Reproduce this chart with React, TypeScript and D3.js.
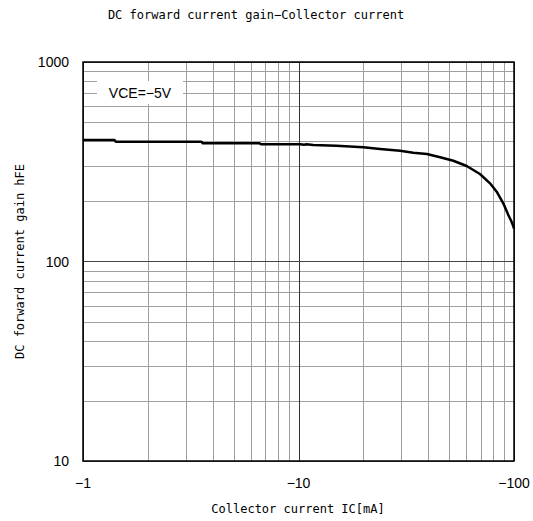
import React, { useEffect, useRef } from "react";
import * as d3 from "d3";

const xTicks = [1, 10, 100];
const xTickLabels = ["−1", "−10", "−100"];
const yTicks = [10, 100, 1000];
const yTickLabels = ["10", "100", "1000"];

const icValues = [1, 1.4, 1.42, 3.55, 3.6, 6.6, 6.7, 10.2, 10.6, 10.9, 11.7, 15.0, 20.0, 23.9, 29.6, 34.1, 39.4, 45.4, 52.3, 60.3, 69.5, 77.4, 83.1, 89.2, 94.1, 97.0, 99.3, 100];
const hfeValues = [406, 406, 398, 398, 391, 391, 387, 387, 385, 387, 383.7, 380.5, 373.6, 366.4, 359.3, 351.1, 345.8, 332.9, 320, 301.1, 274.6, 246.6, 223.9, 195.7, 171, 160, 150, 146];

const title = "DC forward current gain−Collector current";
const xLabel = "Collector current IC[mA]";
const yLabel = "DC forward current gain hFE";
const legendText = "VCE=−5V";

export default function App() {
  const ref = useRef<SVGSVGElement>(null);
  useEffect(() => {
    document.body.style.margin = "0";
    const svg = d3.select(ref.current);
    svg.selectAll("*").remove();
    const W = 533, H = 521;
    const m = { left: 83, top: 62, right: 19, bottom: 60 };
    const pw = W - m.left - m.right;
    const ph = H - m.top - m.bottom;
    const x = d3.scaleLog().domain([1, 100]).range([m.left, m.left + pw]);
    const y = d3.scaleLog().domain([10, 1000]).range([m.top + ph, m.top]);
    const gothic = "'DejaVu Sans Mono', 'Liberation Mono', monospace";
    const arial = "'Liberation Sans', Arial, sans-serif";

    svg.append("rect").attr("width", W).attr("height", H).attr("fill", "#fff");

    const g = svg.append("g");
    const minorX: number[] = [];
    const minorY: number[] = [];
    for (const d of [1, 10]) for (let k = 2; k <= 9; k++) minorX.push(d * k);
    for (const d of [10, 100]) for (let k = 2; k <= 9; k++) minorY.push(d * k);

    g.selectAll(".mx").data(minorX).enter().append("line")
      .attr("x1", d => Math.round(x(d)) + 0.5).attr("x2", d => Math.round(x(d)) + 0.5)
      .attr("y1", m.top).attr("y2", m.top + ph)
      .attr("stroke", "#a0a0a0").attr("stroke-width", 1);
    g.selectAll(".my").data(minorY).enter().append("line")
      .attr("y1", d => Math.round(y(d)) + 0.5).attr("y2", d => Math.round(y(d)) + 0.5)
      .attr("x1", m.left).attr("x2", m.left + pw)
      .attr("stroke", "#a0a0a0").attr("stroke-width", 1);
    g.selectAll(".Mx").data(xTicks).enter().append("line")
      .attr("x1", d => Math.round(x(d)) + 0.5).attr("x2", d => Math.round(x(d)) + 0.5)
      .attr("y1", m.top).attr("y2", m.top + ph)
      .attr("stroke", "#333").attr("stroke-width", 1);
    g.selectAll(".My").data(yTicks).enter().append("line")
      .attr("y1", d => Math.round(y(d)) + 0.5).attr("y2", d => Math.round(y(d)) + 0.5)
      .attr("x1", m.left).attr("x2", m.left + pw)
      .attr("stroke", "#444").attr("stroke-width", 1);

    // legend box
    svg.append("rect").attr("x", 97).attr("y", 81).attr("width", 86).attr("height", 23).attr("fill", "#fff");
    svg.append("text").attr("x", 140).attr("y", 98).attr("text-anchor", "middle")
      .attr("font-family", arial).attr("font-size", 14).text(legendText);

    // curve
    const pts = icValues.map((v, i) => [v, hfeValues[i]] as [number, number]);
    const line = d3.line<[number, number]>().x(d => x(d[0])).y(d => y(d[1]));
    svg.append("path").attr("d", line(pts)).attr("fill", "none")
      .attr("stroke", "#000").attr("stroke-width", 2.5).attr("stroke-linejoin", "round");

    // frame
    svg.append("rect").attr("x", m.left).attr("y", m.top).attr("width", pw).attr("height", ph)
      .attr("fill", "none").attr("stroke", "#000").attr("stroke-width", 1.5);

    // tick labels
    svg.selectAll(".xt").data(xTicks).enter().append("text")
      .attr("x", d => x(d)).attr("y", 488).attr("text-anchor", "middle")
      .attr("font-family", arial).attr("font-size", 14).text((d, i) => xTickLabels[i]);
    svg.selectAll(".yt").data(yTicks).enter().append("text")
      .attr("x", 69).attr("y", d => y(d) + 5).attr("text-anchor", "end")
      .attr("font-family", arial).attr("font-size", 14).text((d, i) => yTickLabels[i]);

    svg.append("text").attr("x", 256).attr("y", 19).attr("text-anchor", "middle")
      .attr("font-family", gothic).attr("font-size", 12).text(title);
    svg.append("text").attr("x", 298).attr("y", 513).attr("text-anchor", "middle")
      .attr("font-family", gothic).attr("font-size", 12).text(xLabel);
    svg.append("text").attr("transform", `translate(24,${m.top + ph / 2}) rotate(-90)`)
      .attr("text-anchor", "middle").attr("font-family", gothic).attr("font-size", 12).text(yLabel);
  }, []);
  return <svg ref={ref} width={533} height={521} style={{ display: "block" }} />;
}
